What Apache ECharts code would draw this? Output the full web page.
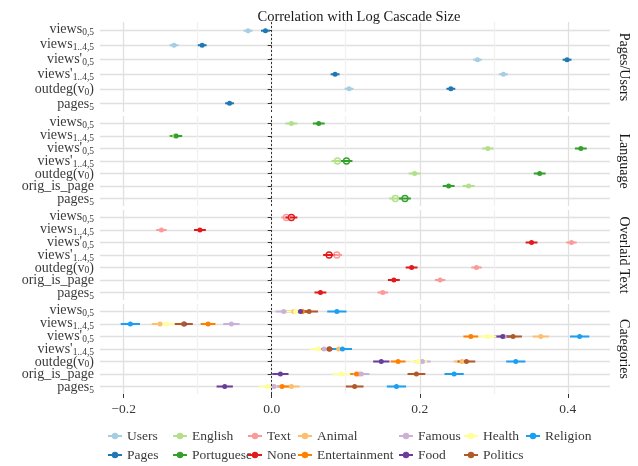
<!DOCTYPE html>
<html>
<head>
<meta charset="utf-8">
<script src="https://cdn.jsdelivr.net/npm/echarts@6/dist/echarts.min.js"></script>
<style>
  html, body { margin: 0; padding: 0; background: #fff; }
  #main { width: 638px; height: 466px; }
</style>
</head>
<body>
<div id="main"></div>
<script>
// row labels, _{..} = subscript
var rowsPU = ['views_{0,5}', 'views_{1..4,5}', "views'_{0,5}", "views'_{1..4,5}", 'outdeg(v_{0})', 'pages_{5}'];
var rowsAll = ['views_{0,5}', 'views_{1..4,5}', "views'_{0,5}", "views'_{1..4,5}", 'outdeg(v_{0})', 'orig_is_page', 'pages_{5}'];
var panelNames = ['Pages/Users', 'Language', 'Overlaid Text', 'Categories'];
var xTicks = [-0.2, 0, 0.2, 0.4];
var xGrid = [-0.2, -0.1, 0, 0.1, 0.2, 0.3, 0.4];

// correlations (null = no estimate), one value per row of the panel
var usersVals      = [-0.032, -0.132, 0.278, 0.313, 0.1045, null];
var pagesVals      = [-0.0085, -0.094, 0.399, 0.0856, 0.242, -0.057];
var englishVals    = [0.0266, -0.131, 0.292, 0.0888, 0.193, 0.266, 0.167];
var portugueseVals = [0.0635, -0.129, 0.4176, 0.101, 0.362, 0.239, 0.180];
var textVals       = [0.0198, -0.149, 0.405, 0.088, 0.2766, 0.2275, 0.150];
var noneVals       = [0.0266, -0.097, 0.351, 0.0775, 0.189, 0.165, 0.0658];
var animalVals     = [0.030, -0.151, 0.3635, 0.0905, 0.257, 0.118, 0.0266];
var entertainVals  = [0.0415, -0.086, 0.269, 0.077, 0.1707, 0.1145, 0.014];
var famousVals     = [0.0162, -0.0545, 0.314, 0.0707, 0.2036, 0.121, 0.003];
var foodVals       = [0.0388, -0.118, 0.312, 0.078, 0.148, 0.0117, -0.0635];
var healthVals     = [0.032, -0.142, 0.2915, 0.0635, 0.1977, 0.094, -0.005];
var politicsVals   = [0.0505, -0.119, 0.326, 0.0785, 0.263, 0.1955, 0.112];
var religionVals   = [0.088, -0.191, 0.416, 0.0955, 0.3297, 0.2464, 0.1685];

// not significant -> open circle
var openLang = [0, 0, 0, 1, 0, 0, 1];
var openText = [1, 0, 0, 1, 0, 0, 0];

// half width of the confidence interval per group
var ciHalf = {
  Users: 0.006, Pages: 0.006, English: 0.008, Portuguese: 0.008, Text: 0.007, None: 0.008,
  Animal: 0.011, Entertainment: 0.010, Famous: 0.011, Food: 0.011, Health: 0.012,
  Politics: 0.012, Religion: 0.013
};

var groups = [
  { name: 'Users', panel: 0, vals: usersVals, color: '#a6cee3' },
  { name: 'Pages', panel: 0, vals: pagesVals, color: '#1f78b4' },
  { name: 'English', panel: 1, vals: englishVals, open: openLang, color: '#b2df8a' },
  { name: 'Portuguese', panel: 1, vals: portugueseVals, open: openLang, color: '#33a02c' },
  { name: 'Text', panel: 2, vals: textVals, open: openText, color: '#fb9a99' },
  { name: 'None', panel: 2, vals: noneVals, open: openText, color: '#e31a1c' },
  { name: 'Animal', panel: 3, vals: animalVals, color: '#fdbf6f' },
  { name: 'Entertainment', panel: 3, vals: entertainVals, color: '#ff7f00' },
  { name: 'Famous', panel: 3, vals: famousVals, color: '#cab2d6' },
  { name: 'Food', panel: 3, vals: foodVals, color: '#6a3d9a' },
  { name: 'Health', panel: 3, vals: healthVals, color: '#ffff99' },
  { name: 'Politics', panel: 3, vals: politicsVals, color: '#b15928' },
  { name: 'Religion', panel: 3, vals: religionVals, color: '#1a9ff2' }
];

var legendCols = [['Users', 'Pages'], ['English', 'Portuguese'], ['Text', 'None'],
  ['Animal', 'Entertainment'], ['Famous', 'Food'], ['Health', 'Politics'], ['Religion']];
var legendX = [107, 172, 247, 297, 398, 463, 525];
var legendY = [429, 448];

var FONT = 'Liberation Serif';
var panelTop = [22, 116, 210, 304];
var panelH = 90;

function rowsOf(p) { return p === 0 ? rowsPU : rowsAll; }
function fmtRow(s) { return s.replace(/_\{([^}]*)\}/g, '{s|$1}'); }

var grids = [], xAxes = [], yAxes = [], series = [], graphics = [];

panelNames.forEach(function (pn, p) {
  var rows = rowsOf(p);
  var idx = rows.map(function (r, i) { return i; });
  grids.push({ left: 100, right: 28, top: panelTop[p], height: panelH });
  xAxes.push({
    gridIndex: p, type: 'value', min: -0.232, max: 0.457,
    axisLine: { show: false },
    axisTick: { show: false, customValues: xGrid },
    axisLabel: { show: false },
    splitLine: { show: true, lineStyle: { color: ['#e0e0e0', '#f1f1f1'], width: 1.3 } }
  });
  // value axis: row positions, ticks and grid lines
  yAxes.push({
    gridIndex: p, type: 'value', inverse: true, min: -0.6, max: rows.length - 0.4,
    axisLine: { show: false },
    axisTick: { show: true, length: 4, customValues: idx, lineStyle: { color: '#333' } },
    axisLabel: { show: false },
    splitLine: { show: true, lineStyle: { color: '#e0e0e0', width: 1.3 } }
  });
});

// category axes that only carry the row names
panelNames.forEach(function (pn, p) {
  var rows = rowsOf(p);
  yAxes.push({
    gridIndex: p, type: 'category', inverse: true, data: rows, position: 'left',
    axisLine: { show: false }, axisTick: { show: false }, splitLine: { show: false },
    axisLabel: {
      interval: 0, margin: 6,
      formatter: function (v) { return fmtRow(v); },
      fontFamily: FONT, fontSize: 14, color: '#3a3a3a', lineHeight: 12,
      rich: { s: { fontFamily: FONT, fontSize: 9.5, lineHeight: 6, padding: [6, 0, 0, 0], color: '#3a3a3a' } }
    }
  });
  graphics.push({
    type: 'text', x: 624, y: panelTop[p] + panelH / 2, rotation: -Math.PI / 2,
    style: { text: pn, font: '14px "' + FONT + '"', fill: '#1a1a1a', align: 'center', verticalAlign: 'middle' }
  });
});

// axis carrying the tick labels under the last panel
xAxes.push({
  gridIndex: 3, type: 'value', min: -0.232, max: 0.457, position: 'bottom',
  axisLine: { show: false },
  axisTick: { show: true, length: 4, customValues: xTicks, lineStyle: { color: '#333' } },
  axisLabel: {
    customValues: xTicks, margin: 8, fontFamily: FONT, fontSize: 13.5, color: '#3a3a3a',
    formatter: function (v) { return (v < 0 ? '\u2212' : '') + Math.abs(v).toFixed(1); }
  },
  splitLine: { show: false }
});

var zeroDone = {};
groups.forEach(function (g) {
  var pts = [], bars = [];
  var h = ciHalf[g.name];
  g.vals.forEach(function (v, i) {
    if (v === null) return;
    var open = g.open && g.open[i];
    pts.push(open ? {
      value: [v, i], symbolSize: 6,
      itemStyle: { color: 'rgba(255,255,255,0)', borderColor: g.color, borderWidth: 1.3 }
    } : { value: [v, i] });
    bars.push([v - h, v + h, i]);
  });
  var s = {
    type: 'line', name: g.name, xAxisIndex: g.panel, yAxisIndex: g.panel,
    data: pts, symbol: 'circle', symbolSize: 5, color: g.color,
    lineStyle: { opacity: 0 }, itemStyle: { color: g.color }, z: 3, silent: true,
    animation: false
  };
  if (!zeroDone[g.panel]) {
    zeroDone[g.panel] = true;
    s.markLine = {
      silent: true, symbol: 'none', label: { show: false },
      lineStyle: { type: [2, 2], color: '#333', width: 1 },
      data: [{ xAxis: 0 }], animation: false
    };
  }
  series.push(s);
  series.push({
    type: 'custom', name: g.name, xAxisIndex: g.panel, yAxisIndex: g.panel,
    data: bars, encode: { x: [0, 1], y: 2 }, z: 2, silent: true, animation: false,
    renderItem: function (params, api) {
      var a = api.coord([api.value(0), api.value(2)]);
      var b = api.coord([api.value(1), api.value(2)]);
      return {
        type: 'line', shape: { x1: a[0], y1: a[1], x2: b[0], y2: b[1] },
        style: { stroke: g.color, lineWidth: 2 }
      };
    }
  });
});

// one legend per entry, laid out column by column like the original
var legends = [];
legendCols.forEach(function (col, c) {
  col.forEach(function (name, r) {
    legends.push({
      data: [name], left: legendX[c], top: legendY[r],
      itemWidth: 14, itemHeight: 8, itemGap: 0, padding: 0,
      lineStyle: { opacity: 1, width: 2 },
      textStyle: { fontFamily: FONT, fontSize: 13.5, color: '#3a3a3a' },
      selectedMode: false
    });
  });
});

var chart = echarts.init(document.getElementById('main'));
chart.setOption({
  animation: false,
  backgroundColor: '#fff',
  title: {
    text: 'Correlation with Log Cascade Size', left: 354, top: 5, textAlign: 'center',
    textStyle: { fontFamily: FONT, fontSize: 14.5, fontWeight: 'normal', color: '#1a1a1a' }
  },
  grid: grids,
  xAxis: xAxes,
  yAxis: yAxes,
  legend: legends,
  series: series,
  graphic: graphics
});
</script>
</body>
</html>
